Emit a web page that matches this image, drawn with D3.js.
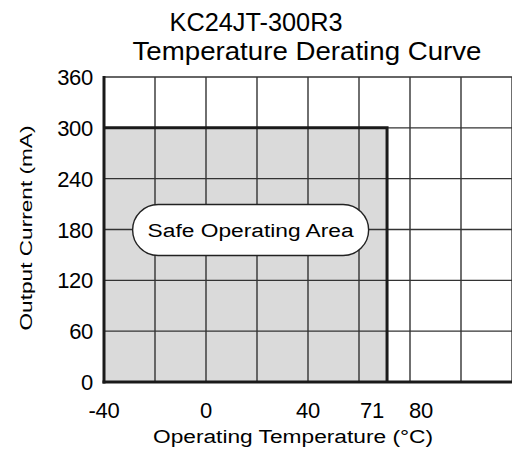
<!DOCTYPE html>
<html>
<head>
<meta charset="utf-8">
<script src="https://cdn.jsdelivr.net/npm/d3@7"></script>
<style>
  body { margin: 0; background: #fff; }
  text { font-family: "Liberation Sans", Arial, sans-serif; fill: #000; }
</style>
</head>
<body>
<div id="chart"></div>
<script>
// chart values
var title1 = "KC24JT-300R3"
var title2 = "Temperature Derating Curve"
var xTicks = [-40, 0, 40, 71, 80]
var xGrid = [-40, -20, 0, 20, 40, 60, 80, 100, 120]
var yTicks = [0, 60, 120, 180, 240, 300, 360]
// derating curve: full load up to 71 C, then drops to zero
var curveTemp = [-40, -40, 71, 71]
var curveCurrent = [0, 300, 300, 0]
var safeLabel = "Safe Operating Area"

var width = 512
var height = 450

var x = d3.scaleLinear().domain([-40, 120]).range([104, 512])
var y = d3.scaleLinear().domain([0, 360]).range([382, 77])

var svg = d3.select("#chart")
  .append("svg")
  .attr("width", width)
  .attr("height", height)

var area = curveTemp.map(function(t, i) { return [t, curveCurrent[i]] })
var line = d3.line().x(function(d) { return x(d[0]) }).y(function(d) { return y(d[1]) })

// shaded safe area
svg.append("path")
  .datum(area)
  .attr("d", line)
  .attr("fill", "#dadada")

// grid
svg.selectAll(".vgrid")
  .data(xGrid)
  .enter()
  .append("line")
  .attr("x1", function(d) { return x(d) })
  .attr("x2", function(d) { return x(d) })
  .attr("y1", y(360))
  .attr("y2", y(0))
  .attr("stroke", "#333")
  .attr("stroke-width", 1.4)

svg.selectAll(".hgrid")
  .data(yTicks)
  .enter()
  .append("line")
  .attr("x1", x(-40))
  .attr("x2", x(120))
  .attr("y1", function(d) { return y(d) })
  .attr("y2", function(d) { return y(d) })
  .attr("stroke", "#333")
  .attr("stroke-width", 1.4)

// curve outline (thick)
svg.append("path")
  .datum(area.slice(1))
  .attr("d", line)
  .attr("fill", "none")
  .attr("stroke", "#1a1a1a")
  .attr("stroke-width", 3)

// axes lines
svg.append("line")
  .attr("x1", x(-40)).attr("x2", x(-40))
  .attr("y1", y(360) - 1).attr("y2", y(0) + 1.5)
  .attr("stroke", "#1a1a1a").attr("stroke-width", 3)
svg.append("line")
  .attr("x1", x(-40) - 1.5).attr("x2", x(120))
  .attr("y1", y(0)).attr("y2", y(0))
  .attr("stroke", "#1a1a1a").attr("stroke-width", 3)

// tick labels
svg.selectAll(".ylab")
  .data(yTicks)
  .enter()
  .append("text")
  .attr("x", 93)
  .attr("y", function(d) { return y(d) + 8 })
  .attr("text-anchor", "end")
  .attr("font-size", 22)
  .attr("letter-spacing", -0.3)
  .text(function(d) { return d })

// 71 and 80 labels are nudged apart so they don't collide
var xLabelShift = { 71: -15, 80: 11 }
svg.selectAll(".xlab")
  .data(xTicks)
  .enter()
  .append("text")
  .attr("x", function(d) { return x(d) + (xLabelShift[d] || 0) })
  .attr("y", 418)
  .attr("text-anchor", "middle")
  .attr("font-size", 22)
  .attr("letter-spacing", -0.3)
  .text(function(d) { return d })

// safe area label pill
var pill = svg.append("g")
  .attr("transform", "translate(" + [x(17.5), y(180)] + ")")
pill.append("rect")
  .attr("x", -118).attr("y", -25)
  .attr("width", 236).attr("height", 51)
  .attr("rx", 25.5)
  .attr("fill", "#fff")
  .attr("stroke", "#222")
  .attr("stroke-width", 1.4)
pill.append("text")
  .attr("y", 7)
  .attr("text-anchor", "middle")
  .attr("font-size", 18)
  .attr("textLength", 206)
  .attr("lengthAdjust", "spacingAndGlyphs")
  .text(safeLabel)

// titles
svg.append("text")
  .attr("x", 256).attr("y", 31)
  .attr("text-anchor", "middle")
  .attr("font-size", 26)
  .attr("textLength", 173)
  .attr("lengthAdjust", "spacingAndGlyphs")
  .text(title1)
svg.append("text")
  .attr("x", 307).attr("y", 60)
  .attr("text-anchor", "middle")
  .attr("font-size", 26)
  .attr("textLength", 349)
  .attr("lengthAdjust", "spacingAndGlyphs")
  .text(title2)

// axis titles
svg.append("text")
  .attr("x", 293).attr("y", 443)
  .attr("text-anchor", "middle")
  .attr("font-size", 18)
  .attr("textLength", 280)
  .attr("lengthAdjust", "spacingAndGlyphs")
  .text("Operating Temperature (\u00b0C)")
svg.append("text")
  .attr("transform", "translate(32,228) rotate(-90)")
  .attr("text-anchor", "middle")
  .attr("font-size", 17)
  .attr("textLength", 205)
  .attr("lengthAdjust", "spacingAndGlyphs")
  .text("Output Current (mA)")
</script>
</body>
</html>
